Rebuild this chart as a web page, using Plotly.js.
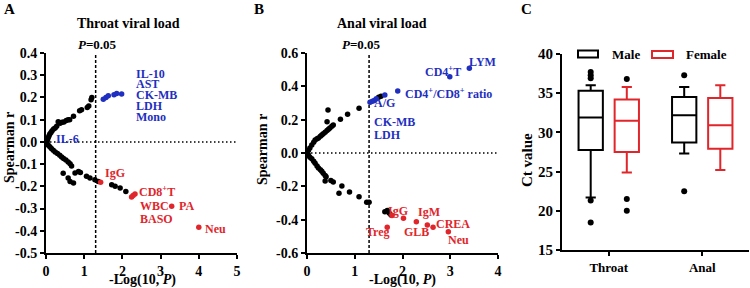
<!DOCTYPE html>
<html><head><meta charset="utf-8">
<script src="https://cdn.plot.ly/plotly-3.0.1.min.js"></script>
<style>html,body{margin:0;padding:0;background:#fff}#chart{width:750px;height:288px}</style>
</head><body><div id="chart"></div>
<script>
// ---------- Panel A: Throat viral load ----------
const throatBlackX = [0.02,0.04,0.06,0.08,0.10,0.13,0.16,0.20,0.24,0.28,0.32,0.37,0.42,0.47,0.53,0.58,0.62,0.72,0.88,0.93,1.08,1.12,1.18,1.20,
  0.03,0.06,0.10,0.14,0.19,0.24,0.30,0.36,0.41,0.46,0.52,0.58,0.63,0.67,
  0.45,0.58,0.63,0.72,0.76,0.85,0.90,1.06,1.15,1.28,1.37,1.72,1.81,1.94,2.09];
const throatBlackR = [0.003,0.010,0.020,0.028,0.035,0.042,0.050,0.058,0.063,0.070,0.091,0.084,0.088,0.090,0.096,0.100,0.100,0.115,0.140,0.145,0.155,0.162,0.190,0.200,
  -0.008,-0.015,-0.022,-0.030,-0.038,-0.045,-0.052,-0.060,-0.068,-0.075,-0.082,-0.090,-0.098,-0.108,
  -0.141,-0.163,-0.178,-0.185,-0.140,-0.133,-0.138,-0.155,-0.163,-0.170,-0.178,-0.193,-0.200,-0.208,-0.223];
const throatBlueX = [1.50,1.57,1.63,1.78,1.85,1.98];
const throatBlueR = [0.192,0.200,0.208,0.212,0.218,0.215];
const throatRedX = [1.43,2.24,2.28,2.33,3.29,4.00];
const throatRedR = [-0.182,-0.248,-0.241,-0.235,-0.290,-0.384];

// ---------- Panel B: Anal viral load ----------
const analBlackX = [0.03,0.06,0.10,0.14,0.17,0.21,0.24,0.28,0.31,0.34,0.38,0.42,0.45,0.48,0.52,0.55,0.42,0.44,0.70,0.85,1.09,1.50,1.55,
  0.03,0.06,0.10,0.14,0.17,0.21,0.24,0.28,0.31,0.34,0.38,0.40,0.38,0.50,0.55,0.73,0.67,0.89,1.09,1.25,1.30,1.63,1.68,1.72,1.76];
const analBlackR = [0.015,0.030,0.048,0.065,0.078,0.085,0.090,0.100,0.108,0.115,0.125,0.135,0.142,0.150,0.160,0.168,0.188,0.258,0.202,0.232,0.268,0.335,0.340,
  -0.012,-0.025,-0.035,-0.050,-0.062,-0.078,-0.090,-0.100,-0.110,-0.122,-0.135,-0.142,-0.168,-0.165,-0.174,-0.198,-0.242,-0.234,-0.262,-0.296,-0.296,-0.352,-0.345,-0.360,-0.372];
const analBlueX = [1.32,1.37,1.41,1.45,1.63,1.90,2.99,3.40];
const analBlueR = [0.305,0.310,0.315,0.325,0.348,0.372,0.458,0.508];
const analRedX = [1.68,1.78,2.02,2.29,2.52,2.64,2.96];
const analRedR = [-0.446,-0.375,-0.392,-0.412,-0.432,-0.446,-0.472];

// ---------- Panel C: Ct value boxes ----------
const boxCats = ['Throat','Anal'];
const maleQ1 = [27.75,28.7], maleMedian = [31.9,32.2], maleQ3 = [35.3,34.5], maleLow = [21.7,27.3], maleHigh = [36.0,35.8];
const femaleQ1 = [27.5,27.9], femaleMedian = [31.5,30.9], femaleQ3 = [34.2,34.4], femaleLow = [24.9,25.2], femaleHigh = [35.8,36.0];
const maleOutliers = [[37.7,37.3,36.9,21.3,18.5],[37.3,22.5]];
const femaleOutliers = [[36.8,21.5,20.0],[]];

// tick labels
const aXTicks = [0,1,2,3,4,5];
const aYTickVals = [0.4,0.3,0.2,0.1,0,-0.1,-0.2,-0.3,-0.4,-0.5];
const aYTickText = ['0.4','0.3','0.2','0.1','0.0','-0.1','-0.2','-0.3','-0.4','-0.5'];
const bXTicks = [0,1,2,3,4];
const bYTickVals = [0.6,0.4,0.2,0,-0.2,-0.4,-0.6];
const bYTickText = ['0.6','0.4','0.2','0.0','-0.2','-0.4','-0.6'];
const cYTicks = [15,20,25,30,35,40];

// ---------- layout helpers ----------
const W = 750, H = 288;
const px = x => x / W, py = y => 1 - y / H;
const FONT = '"Liberation Serif", "Times New Roman", Times, serif';
const BLACK = '#000000', BLUE = '#1f2fbf', RED = '#e0262b';

function pts(x, y, color, xa, ya) {
  return {type:'scatter', mode:'markers', x:x, y:y, xaxis:xa, yaxis:ya, cliponaxis:false,
    marker:{color:color, size:5.5, line:{width:0}}, showlegend:false, hoverinfo:'skip'};
}

const traces = [
  pts(throatBlackX, throatBlackR, BLACK, 'x', 'y'),
  pts(throatBlueX, throatBlueR, BLUE, 'x', 'y'),
  pts(throatRedX, throatRedR, RED, 'x', 'y'),
  pts(analBlackX, analBlackR, BLACK, 'x2', 'y2'),
  pts(analBlueX, analBlueR, BLUE, 'x2', 'y2'),
  pts(analRedX, analRedR, RED, 'x2', 'y2')
];

const OFF = 0.193, BOXW = 0.26;
function boxTrace(q1, med, q3, lo, hi, color, sign) {
  return {type:'box', xaxis:'x3', yaxis:'y3', x: boxCats.map((c,i)=>i+sign*OFF),
    q1:q1, median:med, q3:q3, lowerfence:lo, upperfence:hi,
    width:BOXW, whiskerwidth:0.42, boxpoints:false, fillcolor:'#ffffff',
    line:{color:color, width:2}, showlegend:false, hoverinfo:'skip'};
}
traces.push(boxTrace(maleQ1, maleMedian, maleQ3, maleLow, maleHigh, BLACK, -1));
traces.push(boxTrace(femaleQ1, femaleMedian, femaleQ3, femaleLow, femaleHigh, RED, 1));
function outlierTrace(outs, sign) {
  const xs = [], ys = [];
  outs.forEach((arr,i)=>arr.forEach(v=>{xs.push(i+sign*OFF); ys.push(v);}));
  return {type:'scatter', mode:'markers', x:xs, y:ys, xaxis:'x3', yaxis:'y3', cliponaxis:false,
    marker:{color:BLACK, size:6}, showlegend:false, hoverinfo:'skip'};
}
traces.push(outlierTrace(maleOutliers, -1));
traces.push(outlierTrace(femaleOutliers, 1));

const tickFont = {family:FONT, size:14, color:BLACK, weight:'bold'};
function axis(extra) {
  return Object.assign({showline:true, linewidth:2, linecolor:BLACK, ticks:'outside', ticklen:4, tickwidth:2,
    tickcolor:BLACK, showgrid:false, zeroline:false, tickfont:tickFont, fixedrange:true}, extra);
}

function ann(text, x, y, color, size, extra) {
  return Object.assign({text:text, xref:'paper', yref:'paper', x:px(x), y:py(y), xanchor:'left', yanchor:'middle',
    showarrow:false, font:{family:FONT, size:size||12, color:color, weight:'bold'}}, extra||{});
}

const annotations = [
  ann('A', 2, 9, BLACK, 15),
  ann('B', 252, 9, BLACK, 15),
  ann('C', 519, 9, BLACK, 15),
  ann('Throat viral load', 128, 23, BLACK, 14, {xanchor:'center'}),
  ann('Anal viral load', 382, 23, BLACK, 14, {xanchor:'center'}),
  ann('<i>P</i>=0.05', 98, 44, BLACK, 13, {xanchor:'center'}),
  ann('<i>P</i>=0.05', 361, 44, BLACK, 13, {xanchor:'center'}),
  // axis titles
  ann('Spearman r', 9, 148, BLACK, 14, {xanchor:'center', textangle:-90}),
  ann('Spearman r', 262, 150, BLACK, 14, {xanchor:'center', textangle:-90}),
  ann('-Log(10, <i>P</i>)', 142, 280, BLACK, 14, {xanchor:'center', yanchor:'middle'}),
  ann('-Log(10, <i>P</i>)', 402, 280, BLACK, 14, {xanchor:'center', yanchor:'middle'}),
  ann('Ct value', 527, 160, BLACK, 15, {xanchor:'center', textangle:-90}),
  // panel A labels
  ann('IL-10', 134, 74, BLUE), ann('AST', 134, 84, BLUE), ann('CK-MB', 134, 95, BLUE),
  ann('LDH', 134, 106, BLUE), ann('Mono', 134, 117, BLUE), ann('IL-6', 54, 139, BLUE),
  ann('IgG', 103, 173, RED), ann('CD8<sup>+</sup>T', 137, 191, RED), ann('WBC', 138, 206, RED),
  ann('PA', 177, 206, RED), ann('BASO', 138, 219, RED), ann('Neu', 203, 229, RED),
  // panel B labels
  ann('LYM', 467, 62, BLUE), ann('CD4<sup>+</sup>T', 423, 71, BLUE), ann('CD4<sup>+</sup>/CD8<sup>+</sup> ratio', 403, 93, BLUE),
  ann('A/G', 372, 103, BLUE), ann('CK-MB', 372, 122, BLUE), ann('LDH', 372, 135, BLUE),
  ann('IgG', 386, 211, RED), ann('IgM', 416, 212, RED), ann('CREA', 434, 224, RED),
  ann('GLB', 402, 232, RED), ann('Treg', 364, 232, RED), ann('Neu', 446, 240, RED),
  // legend C
  ann('Male', 610, 54, BLACK, 13), ann('Female', 684, 54, BLACK, 13)
];

const shapes = [
  {type:'line', xref:'x', yref:'y', x0:1.3, x1:1.3, y0:-0.5, y1:0.41, line:{color:BLACK, width:1.5, dash:'3px,2px'}, layer:'below'},
  {type:'line', xref:'x', yref:'y', x0:0, x1:5, y0:0, y1:0, line:{color:BLACK, width:1.5, dash:'1.5px,2.5px'}, layer:'below'},
  {type:'line', xref:'x2', yref:'y2', x0:1.3, x1:1.3, y0:-0.6, y1:0.615, line:{color:BLACK, width:1.5, dash:'3px,2px'}, layer:'below'},
  {type:'line', xref:'x2', yref:'y2', x0:0, x1:4, y0:0, y1:0, line:{color:BLACK, width:1.5, dash:'1.5px,2.5px'}, layer:'below'},
  {type:'rect', xref:'paper', yref:'paper', x0:px(578), x1:px(598), y0:py(57.5), y1:py(50.5), line:{color:BLACK, width:2}, fillcolor:'#ffffff'},
  {type:'rect', xref:'paper', yref:'paper', x0:px(652), x1:px(673), y0:py(58), y1:py(51), line:{color:RED, width:2}, fillcolor:'#ffffff'}
];

const layout = {
  width:W, height:H, margin:{l:0,r:0,t:0,b:0}, paper_bgcolor:'#ffffff', plot_bgcolor:'rgba(0,0,0,0)',
  showlegend:false, font:{family:FONT, color:BLACK},
  xaxis: axis({domain:[px(46),px(237)], range:[0,5], anchor:'y', tickvals:aXTicks}),
  yaxis: axis({domain:[py(253),py(53)], range:[-0.5,0.4], anchor:'x', tickvals:aYTickVals, ticktext:aYTickText}),
  xaxis2: axis({domain:[px(307),px(498)], range:[0,4], anchor:'y2', tickvals:bXTicks}),
  yaxis2: axis({domain:[py(253),py(53)], range:[-0.6,0.6], anchor:'x2', tickvals:bYTickVals, ticktext:bYTickText}),
  xaxis3: axis({domain:[px(562),px(749)], range:[-0.5,1.5], anchor:'y3', tickvals:[0,1], ticktext:boxCats,
    tickfont:{family:FONT, size:13, color:BLACK, weight:'bold'}}),
  yaxis3: axis({domain:[py(250),py(54)], range:[15,40], anchor:'x3', tickvals:cYTicks,
    tickfont:{family:FONT, size:15, color:BLACK, weight:'bold'}}),
  annotations:annotations, shapes:shapes
};

Plotly.newPlot('chart', traces, layout, {staticPlot:true, displayModeBar:false});
</script>
</body></html>
